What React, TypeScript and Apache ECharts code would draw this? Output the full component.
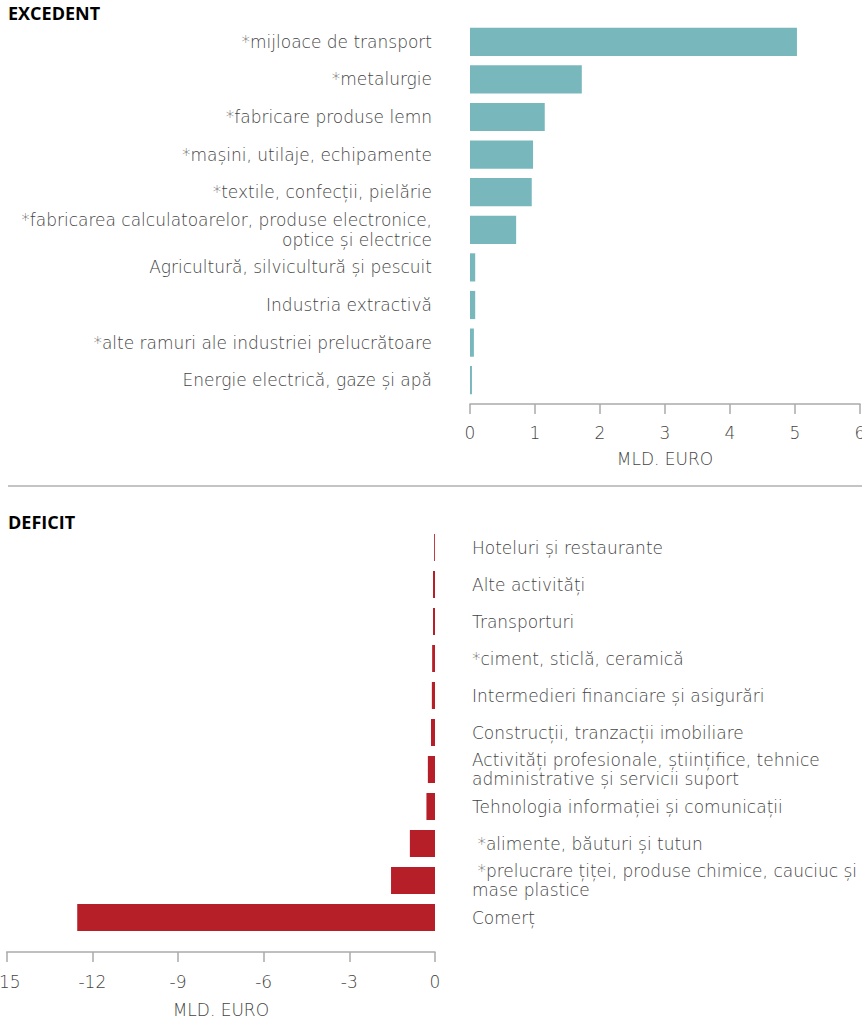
import React, { useEffect, useRef } from "react";
import * as echarts from "echarts";

const surplusCategories = [
  "*mijloace de transport",
  "*metalurgie",
  "*fabricare produse lemn",
  "*mașini, utilaje, echipamente",
  "*textile, confecții, pielărie",
  "*fabricarea calculatoarelor, produse electronice,\noptice și electrice",
  "Agricultură, silvicultură și pescuit",
  "Industria extractivă",
  "*alte ramuri ale industriei prelucrătoare",
  "Energie electrică, gaze și apă",
];
const surplusValues = [5.03, 1.72, 1.15, 0.97, 0.95, 0.71, 0.08, 0.08, 0.06, 0.03];

const deficitCategories = [
  "Hoteluri și restaurante",
  "Alte activități",
  "Transporturi",
  "*ciment, sticlă, ceramică",
  "Intermedieri financiare și asigurări",
  "Construcții, tranzacții imobiliare",
  "Activități profesionale, științifice, tehnice\nadministrative și servicii suport",
  "Tehnologia informației și comunicații",
  " *alimente, băuturi și tutun",
  " *prelucrare țiței, produse chimice, cauciuc și\nmase plastice",
  "Comerț",
];
const deficitValues = [-0.03, -0.07, -0.07, -0.1, -0.11, -0.14, -0.25, -0.3, -0.88, -1.54, -12.53];

const surplusTicks = { min: 0, max: 6, interval: 1 };
const deficitTicks = { min: -15, max: 0, interval: 3 };

const FONT = "'DejaVu Sans', 'Open Sans', sans-serif";
const TITLE_FONT = "'Open Sans', sans-serif";
const GREY = "#444";

export default function App() {
  const ref = useRef<HTMLDivElement>(null);
  useEffect(() => {
    if (!ref.current) return;
    const chart = echarts.init(ref.current, undefined, { renderer: "svg" });
    chart.setOption({
      animation: false,
      textStyle: { fontFamily: FONT },
      grid: [
        { left: 470, width: 390, top: 23, height: 376, containLabel: false, outerBoundsMode: "none" },
        { left: 6.7, width: 428.3, top: 529, height: 407, containLabel: false, outerBoundsMode: "none" },
      ],
      xAxis: [
        {
          gridIndex: 0,
          type: "value",
          min: surplusTicks.min,
          max: surplusTicks.max,
          interval: surplusTicks.interval,
          position: "bottom",
          offset: 5,
          splitLine: { show: false },
          axisLine: { show: true, lineStyle: { color: "#aaa", width: 1.5 } },
          axisTick: { show: true, length: 10, lineStyle: { color: "#aaa", width: 1.5 } },
          axisLabel: { color: GREY, fontSize: 17, fontWeight: 300, margin: 20, fontFamily: FONT },
          name: "MLD. EURO",
          nameLocation: "middle",
          nameGap: 46,
          nameTextStyle: { color: GREY, fontSize: 17, fontWeight: 300, fontFamily: FONT },
        },
        {
          gridIndex: 1,
          type: "value",
          min: deficitTicks.min,
          max: deficitTicks.max,
          interval: deficitTicks.interval,
          position: "bottom",
          offset: 16,
          splitLine: { show: false },
          axisLine: { show: true, lineStyle: { color: "#aaa", width: 1.5 } },
          axisTick: { show: true, length: 10, lineStyle: { color: "#aaa", width: 1.5 } },
          axisLabel: { color: GREY, fontSize: 17, fontWeight: 300, margin: 21, fontFamily: FONT },
          name: "MLD. EURO",
          nameLocation: "middle",
          nameGap: 49,
          nameTextStyle: { color: GREY, fontSize: 17, fontWeight: 300, fontFamily: FONT },
        },
      ],
      yAxis: [
        {
          gridIndex: 0,
          type: "category",
          data: surplusCategories,
          inverse: true,
          position: "left",
          axisLine: { show: false },
          axisTick: { show: false },
          axisLabel: {
            color: GREY,
            fontSize: 17,
            fontWeight: 300,
            margin: 38,
            align: "right",
            lineHeight: 20,
            fontFamily: FONT,
          },
        },
        {
          gridIndex: 1,
          type: "category",
          data: deficitCategories,
          inverse: true,
          position: "right",
          axisLine: { show: false },
          axisTick: { show: false },
          axisLabel: {
            color: GREY,
            fontSize: 17,
            fontWeight: 300,
            margin: 37,
            align: "left",
            lineHeight: 19,
            fontFamily: FONT,
          },
        },
      ],
      series: [
        {
          type: "bar",
          xAxisIndex: 0,
          yAxisIndex: 0,
          data: surplusValues,
          barCategoryGap: "25%",
          itemStyle: { color: "#78b8bc" },
        },
        {
          type: "bar",
          xAxisIndex: 1,
          yAxisIndex: 1,
          data: deficitValues,
          barCategoryGap: "27%",
          itemStyle: { color: "#b71f28" },
        },
      ],
      graphic: [
        {
          type: "text",
          left: 8,
          top: 4,
          style: { text: "EXCEDENT", fill: "#000", font: "700 18px " + TITLE_FONT },
        },
        {
          type: "text",
          left: 8,
          top: 513,
          style: { text: "DEFICIT", fill: "#000", font: "700 18px " + TITLE_FONT },
        },
        {
          type: "line",
          shape: { x1: 8, y1: 486, x2: 862, y2: 486 },
          style: { stroke: "#b0b0b0", lineWidth: 1.5 },
        },
      ],
    });
    return () => chart.dispose();
  }, []);
  return (
    <div
      ref={ref}
      style={{ position: "absolute", left: 0, top: 0, width: 862, height: 1023, background: "#fff" }}
    />
  );
}
